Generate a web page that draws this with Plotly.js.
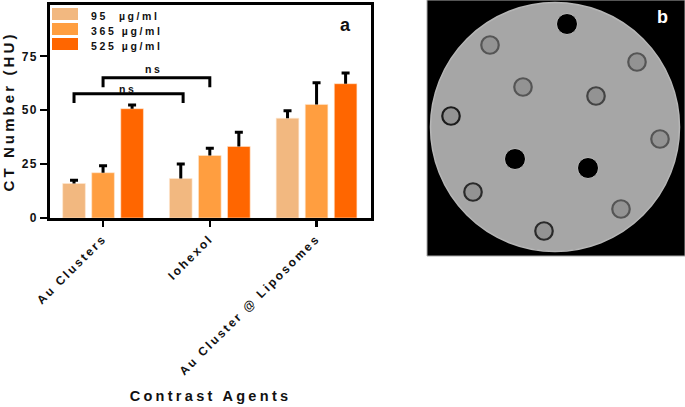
<!DOCTYPE html>
<html><head><meta charset="utf-8">
<script src="https://cdn.plot.ly/plotly-3.0.1.min.js"></script>
<style>
html,body{margin:0;padding:0;background:#fff}
#c{width:685px;height:407px}
.xtick text{letter-spacing:2.3px}
.ytick text{letter-spacing:1.4px}
.g-xtitle text{letter-spacing:3.3px}
.g-ytitle text{letter-spacing:3.1px}
.annotation-text{letter-spacing:2.6px}
</style></head><body><div id="c"></div>
<script>
// Panel a
const categories=["Au Clusters","Iohexol","Au Cluster @ Liposomes"];
const categoryPos=[0,1,2];
const seriesNames=["95  µg/ml","365 µg/ml","525 µg/ml"];
const seriesColors=["#F2B880","#FF9E40","#FF6600"];
const low=[16,18.3,46.3];
const mid=[21,29,52.7];
const high=[50.7,33.2,62.3];
const lowErr=[1.5,6.8,3.4];
const midErr=[3.2,3.3,10];
const highErr=[1.7,6.6,5];
const yTicks=[0,25,50,75];
const bracket1X=[-0.272,-0.272,0.75,0.75], bracket1Y=[53.3,57.6,57.6,53.3];
const bracket2X=[0,0,1,1], bracket2Y=[60.6,65,65,60.6];
// Panel b (phantom cross-section, image pixel coordinates)
const diskX=[135], diskY=[127];
const airX=[147,95,168], airY=[24,159,168];
const tubeX=[70,217,103,176,31,240,53,201,124];
const tubeY=[45,62,87,96,116,139,192,209,231];
const tubeRing=["#555","#555","#555","#444","#1c1c1c","#555","#2a2a2a","#555","#2a2a2a"];

const W=685,H=407;
const px=(a,b)=>[a/W,b/W], py=(a,b)=>[1-b/H,1-a/H];
const bar=(y,e,i)=>({type:"bar",x:categoryPos,y:y,name:seriesNames[i],showlegend:false,
  marker:{color:seriesColors[i],line:{color:"#ffe8d0",width:0.6}},
  error_y:{type:"data",symmetric:false,array:e,arrayminus:[0,0,0],color:"#000",thickness:3,width:4},
  xaxis:"x",yaxis:"y",hoverinfo:"skip"});
const line=(x,y)=>({type:"scatter",mode:"lines",x:x,y:y,line:{color:"#000",width:3},showlegend:false,xaxis:"x",yaxis:"y",hoverinfo:"skip"});
const dots=(x,y,size,color,lc,lw)=>({type:"scatter",mode:"markers",x:x,y:y,showlegend:false,xaxis:"x2",yaxis:"y2",hoverinfo:"skip",
  marker:{size:size,color:color,line:{color:lc,width:lw}}});
const traces=[bar(low,lowErr,0),bar(mid,midErr,1),bar(high,highErr,2),
  line(bracket1X,bracket1Y),line(bracket2X,bracket2Y),
  dots(diskX,diskY,249,"#a6a6a6","#b6b6b6",1.5),
  dots(airX,airY,21,"#000000","#bcbcbc",1),
  dots(tubeX,tubeY,17.5,"#939393",tubeRing,2.2)];
const font={family:"Liberation Sans, Arial, sans-serif",color:"#111"};
const legendY=[14,29,44];
const shapes=[{type:"rect",xref:"paper",yref:"paper",x0:427/W,x1:1,y0:1-256/H,y1:1,fillcolor:"#000",line:{color:"#aaa",width:1},layer:"below"}];
const annotations=[];
seriesNames.forEach((n,i)=>{
  shapes.push({type:"rect",xref:"paper",yref:"paper",x0:52/W,x1:78/W,y0:1-(legendY[i]+6)/H,y1:1-(legendY[i]-6)/H,fillcolor:seriesColors[i],line:{width:0}});
  annotations.push({xref:"paper",yref:"paper",x:89/W,y:1-(legendY[i]+2)/H,xanchor:"left",yanchor:"middle",showarrow:false,text:n.replace(/  /g,"\u00a0\u00a0"),font:{...font,size:10.5,weight:700}});
});
annotations.push({xref:"paper",yref:"paper",x:153/W,y:1-69/H,xanchor:"center",yanchor:"middle",showarrow:false,text:"ns",font:{...font,size:10.5,weight:700}});
annotations.push({xref:"paper",yref:"paper",x:128/W,y:1-89/H,xanchor:"center",yanchor:"middle",showarrow:false,text:"ns",font:{...font,size:10.5,weight:700}});
annotations.push({xref:"paper",yref:"paper",x:346/W,y:1-25/H,xanchor:"center",yanchor:"middle",showarrow:false,text:"a",font:{...font,size:18,weight:700}});
annotations.push({xref:"paper",yref:"paper",x:664/W,y:1-17/H,xanchor:"center",yanchor:"middle",showarrow:false,text:"b",font:{family:font.family,color:"#fff",size:18,weight:700}});
const layout={width:W,height:H,margin:{l:0,r:0,t:0,b:0},paper_bgcolor:"#fff",plot_bgcolor:"rgba(0,0,0,0)",
  barmode:"group",bargap:0.184,bargroupgap:0.22,showlegend:false,shapes:shapes,annotations:annotations,
  xaxis:{domain:px(50,371),range:[-0.497,2.51],tickmode:"array",tickvals:categoryPos,ticktext:categories,tickangle:-45,
    ticks:"outside",ticklen:6,tickwidth:2.2,tickcolor:"#000",showline:true,linecolor:"#000",linewidth:2.8,mirror:true,showgrid:false,zeroline:false,
    tickfont:{...font,size:12,weight:700},automargin:false,
    title:{text:"Contrast Agents",font:{...font,size:14.5,weight:700},standoff:14}},
  yaxis:{domain:py(5,218),range:[0,98.8],tickmode:"array",tickvals:yTicks,
    ticks:"outside",ticklen:7,tickwidth:2.2,tickcolor:"#000",showline:true,linecolor:"#000",linewidth:2.8,mirror:true,showgrid:false,zeroline:false,
    tickfont:{...font,size:12,weight:700},automargin:false,
    title:{text:"CT Number (HU)",font:{...font,size:15,weight:700},standoff:8}},
  xaxis2:{domain:px(427,685),range:[7,265],visible:false,fixedrange:true},
  yaxis2:{domain:py(1,256),range:[256,1],visible:false,fixedrange:true}
};
Plotly.newPlot("c",traces,layout,{displayModeBar:false,staticPlot:true}).then(()=>{
  // the reference's error bars are one-sided with no cap at the bar top
  document.querySelectorAll(".errorbar path.yerror").forEach(p=>{
    p.setAttribute("d",p.getAttribute("d").replace(/m-[\d.]+,0h[\d.]+$/,""));
  });
});
</script></body></html>
